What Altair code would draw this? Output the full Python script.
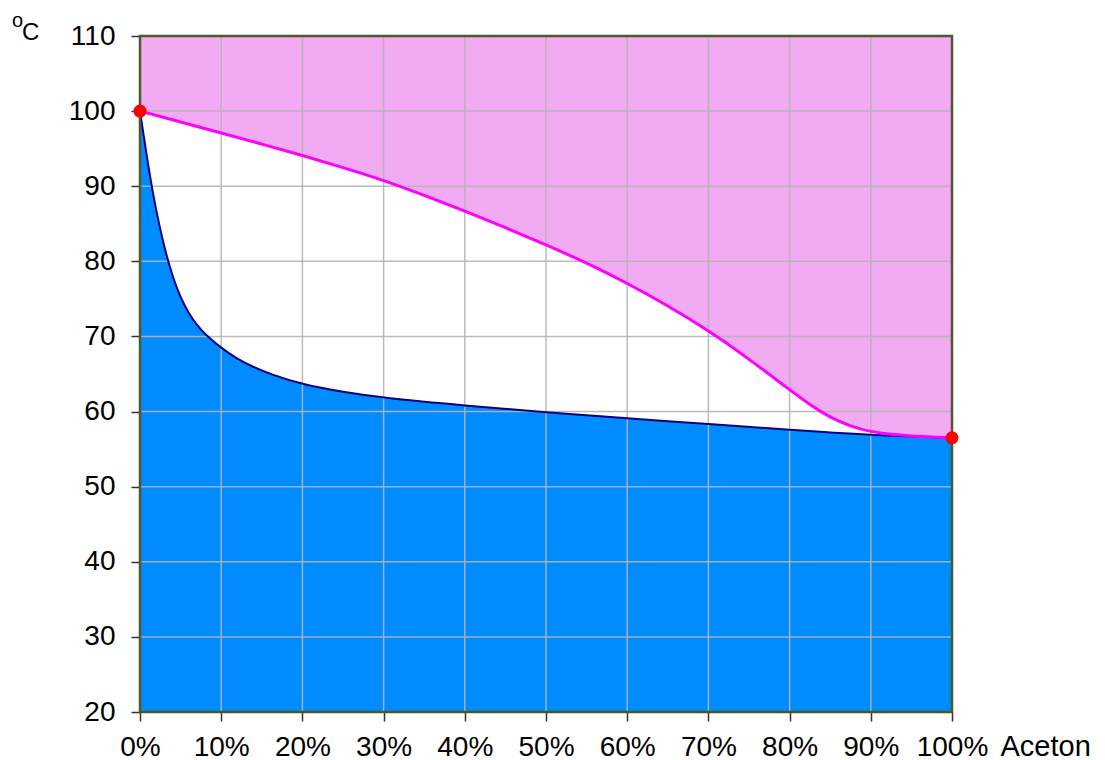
import altair as alt
import pandas as pd

# Dew-point (vapour) curve: acetone fraction in % and temperature in °C
vap_x = [0, 5, 10, 15, 20, 25, 30, 35, 40, 45, 50, 55, 60, 65, 70, 75, 80, 82.5, 85,
         87.5, 90, 92.5, 95, 97.5, 100]
vap_t = [100, 98.55, 97.1, 95.6, 94.1, 92.5, 90.8, 88.8, 86.7, 84.5, 82.2, 79.8, 77.1,
         74.1, 70.8, 67.0, 62.9, 60.9, 59.2, 58.0, 57.3, 56.95, 56.75, 56.6, 56.5]

# Bubble-point (liquid) curve
liq_x = [0, 1, 2, 3, 4, 5, 6, 7, 8, 10, 12, 14, 16, 20, 25, 30, 40, 50, 60, 70, 80, 90, 100]
liq_t = [100, 92.7, 86.6, 81.8, 78.0, 75.1, 73.1, 71.5, 70.3, 68.45, 67.0, 65.9, 65.0,
         63.6, 62.6, 61.8, 60.8, 59.9, 59.1, 58.35, 57.55, 56.85, 56.5]

# Boiling points of the pure components
pure_x = [0, 100]
pure_t = [100, 56.5]

x_ticks = list(range(0, 101, 10))
y_ticks = list(range(20, 111, 10))
T_MIN, T_MAX = 20, 110

W, H = 812, 676
FONT = "Liberation Sans"
CURVE = "basis"

vap = pd.DataFrame({"x": vap_x, "t": vap_t})
liq = pd.DataFrame({"x": liq_x, "t": liq_t})
pure = pd.DataFrame({"x": pure_x, "t": pure_t})
xg = pd.DataFrame({"x": x_ticks[1:-1]})
yg = pd.DataFrame({"t": y_ticks[1:-1]})
frame = pd.DataFrame({"x0": [0], "x1": [100], "t0": [T_MIN], "t1": [T_MAX]})

xs = alt.Scale(domain=[0, 100], nice=False, zero=False)
ys = alt.Scale(domain=[T_MIN, T_MAX], nice=False, zero=False)

x_axis = alt.Axis(
    values=x_ticks, labelExpr="datum.value + '%'", grid=False, domain=False,
    ticks=True, tickSize=9, tickWidth=1.5, tickColor="#333333",
    labelFont=FONT, labelFontSize=28, labelColor="#000000",
    labelBaseline="alphabetic", labelPadding=34, labelFlush=False,
    title="Aceton", titleFont=FONT, titleFontSize=29, titleFontWeight="normal",
    titleColor="#000000", titleAlign="left", titleBaseline="alphabetic",
    titleX=860, titleY=43, titleAngle=0,
)
y_axis = alt.Axis(
    values=y_ticks, grid=False, domain=False,
    ticks=True, tickSize=9, tickWidth=1.5, tickColor="#333333",
    labelFont=FONT, labelFontSize=28, labelColor="#000000",
    labelBaseline="middle", labelPadding=16, labelFlush=False,
    title=None,
)

# vapour region: the whole diagram is pink first
vapour = alt.Chart(frame).mark_rect(fill="#f2aaf2", stroke=None).encode(
    x=alt.X("x0:Q", scale=xs, axis=x_axis),
    x2="x1:Q",
    y=alt.Y("t0:Q", scale=ys, axis=y_axis),
    y2="t1:Q",
)

# white two-phase region below the vapour curve
two_phase = alt.Chart(vap).mark_area(color="#ffffff", interpolate=CURVE).encode(
    x=alt.X("x:Q", scale=xs),
    y=alt.Y("t:Q", scale=ys),
    y2=alt.datum(T_MIN),
)

# liquid region below the bubble-point curve
liquid = alt.Chart(liq).mark_area(color="#008cff", interpolate=CURVE).encode(
    x=alt.X("x:Q", scale=xs),
    y=alt.Y("t:Q", scale=ys),
    y2=alt.datum(T_MIN),
)

grid_x = alt.Chart(xg).mark_rule(color="#b4b4b4", strokeWidth=1.5, opacity=0.9).encode(
    x=alt.X("x:Q", scale=xs),
)
grid_y = alt.Chart(yg).mark_rule(color="#b4b4b4", strokeWidth=1.5, opacity=0.9).encode(
    y=alt.Y("t:Q", scale=ys),
)

liq_line = alt.Chart(liq).mark_line(color="#000080", strokeWidth=2, interpolate=CURVE).encode(
    x=alt.X("x:Q", scale=xs),
    y=alt.Y("t:Q", scale=ys),
)
vap_line = alt.Chart(vap).mark_line(color="#ff00ff", strokeWidth=3, interpolate=CURVE).encode(
    x=alt.X("x:Q", scale=xs),
    y=alt.Y("t:Q", scale=ys),
)

border = alt.Chart(frame).mark_rect(fill=None, stroke="#4b5a2a", strokeWidth=2.5).encode(
    x=alt.X("x0:Q", scale=xs),
    x2="x1:Q",
    y=alt.Y("t0:Q", scale=ys),
    y2="t1:Q",
)

points = alt.Chart(pure).mark_circle(color="#ff0000", opacity=1, size=170, clip=False).encode(
    x=alt.X("x:Q", scale=xs),
    y=alt.Y("t:Q", scale=ys),
)

# unit label "ºC" above the temperature axis
unit_o = alt.Chart(pd.DataFrame({"s": ["o"]})).mark_text(
    font=FONT, fontSize=20, align="left", baseline="alphabetic", color="#000000"
).encode(x=alt.value(-128), y=alt.value(-9), text="s:N")
unit_c = alt.Chart(pd.DataFrame({"s": ["C"]})).mark_text(
    font=FONT, fontSize=24, align="left", baseline="alphabetic", color="#000000"
).encode(x=alt.value(-118), y=alt.value(3.5), text="s:N")

chart = alt.layer(
    vapour, two_phase, liquid, grid_x, grid_y, liq_line, vap_line, border, points,
    unit_o, unit_c
).properties(
    width=W,
    height=H,
    autosize=alt.AutoSizeParams(type="none"),
    padding={"left": 140, "top": 36, "right": 153, "bottom": 48},
    background="#ffffff",
).configure_view(stroke=None)

chart.save("out.html", embed_options={"renderer": "svg", "actions": False})
